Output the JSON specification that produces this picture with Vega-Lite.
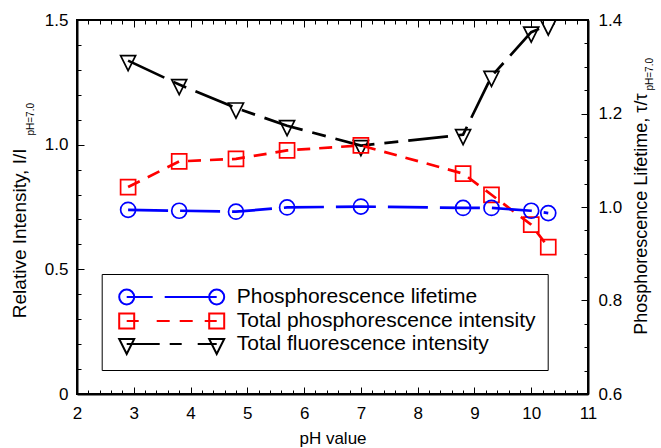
{
  "$schema": "https://vega.github.io/schema/vega-lite/v6.json",
  "width": 511,
  "height": 374,
  "autosize": {"type": "none"},
  "padding": {"left": 77, "top": 20, "right": 73, "bottom": 54},
  "background": "white",
  "config": {
    "font": "Liberation Sans",
    "view": {"stroke": "black", "strokeWidth": 2},
    "axis": {
      "grid": false,
      "domainColor": "black",
      "domainWidth": 2,
      "tickColor": "black",
      "tickWidth": 1,
      "labelColor": "black",
      "labelFont": "Liberation Sans",
      "labelFontSize": 17,
      "titleFont": "Liberation Sans",
      "titleFontSize": 18,
      "titleFontWeight": "normal",
      "titleColor": "black"
    }
  },
  "datasets": {
    "pts": [
      {"series": "Total fluorescence intensity", "ph": 2.9, "value": 1.337},
      {"series": "Total fluorescence intensity", "ph": 3.8, "value": 1.241},
      {"series": "Total fluorescence intensity", "ph": 4.8, "value": 1.147},
      {"series": "Total fluorescence intensity", "ph": 5.7, "value": 1.076},
      {"series": "Total fluorescence intensity", "ph": 7.0, "value": 0.996},
      {"series": "Total fluorescence intensity", "ph": 8.8, "value": 1.040},
      {"series": "Total fluorescence intensity", "ph": 9.3, "value": 1.274},
      {"series": "Total fluorescence intensity", "ph": 10.0, "value": 1.451},
      {"series": "Total fluorescence intensity", "ph": 10.3, "value": 1.48},
      {"series": "Total phosphorescence intensity", "ph": 2.9, "value": 0.830},
      {"series": "Total phosphorescence intensity", "ph": 3.8, "value": 0.933},
      {"series": "Total phosphorescence intensity", "ph": 4.8, "value": 0.943},
      {"series": "Total phosphorescence intensity", "ph": 5.7, "value": 0.977},
      {"series": "Total phosphorescence intensity", "ph": 7.0, "value": 0.997},
      {"series": "Total phosphorescence intensity", "ph": 8.8, "value": 0.884},
      {"series": "Total phosphorescence intensity", "ph": 9.3, "value": 0.799},
      {"series": "Total phosphorescence intensity", "ph": 10.0, "value": 0.679},
      {"series": "Total phosphorescence intensity", "ph": 10.3, "value": 0.589},
      {"series": "Phosphorescence lifetime", "ph": 2.9, "value": 0.994},
      {"series": "Phosphorescence lifetime", "ph": 3.8, "value": 0.992},
      {"series": "Phosphorescence lifetime", "ph": 4.8, "value": 0.990},
      {"series": "Phosphorescence lifetime", "ph": 5.7, "value": 0.999},
      {"series": "Phosphorescence lifetime", "ph": 7.0, "value": 1.001},
      {"series": "Phosphorescence lifetime", "ph": 8.8, "value": 0.998},
      {"series": "Phosphorescence lifetime", "ph": 9.3, "value": 0.998},
      {"series": "Phosphorescence lifetime", "ph": 10.0, "value": 0.992},
      {"series": "Phosphorescence lifetime", "ph": 10.3, "value": 0.987}
    ]
  },
  "layer": [
    {
      "encoding": {
        "x": {
          "field": "ph", "type": "quantitative",
          "scale": {"domain": [2, 11], "nice": false, "zero": false},
          "axis": {
            "orient": "bottom",
            "values": [2,2.2,2.4,2.6,2.8,3,3.2,3.4,3.6,3.8,4,4.2,4.4,4.6,4.8,5,5.2,5.4,5.6,5.8,6,6.2,6.4,6.6,6.8,7,7.2,7.4,7.6,7.8,8,8.2,8.4,8.6,8.8,9,9.2,9.4,9.6,9.8,10,10.2,10.4,10.6,10.8,11],
            "labelExpr": "abs(datum.value - round(datum.value)) < 0.001 ? format(datum.value, 'd') : ''",
            "tickSize": {"condition": {"test": "abs(datum.value - round(datum.value)) < 0.001", "value": -7}, "value": -4},
            "labelPadding": 18,
            "labelFlush": false,
            "labelOverlap": false,
            "title": "pH value",
            "titleFontSize": 17,
            "titleBaseline": "alphabetic",
            "titleAlign": "center",
            "titleX": 255.5,
            "titleY": 49
          }
        },
        "y": {
          "field": "value", "type": "quantitative",
          "scale": {"domain": [0, 1.5], "nice": false, "zero": false},
          "axis": {
            "orient": "left",
            "values": [0,0.1,0.2,0.3,0.4,0.5,0.6,0.7,0.8,0.9,1,1.1,1.2,1.3,1.4,1.5],
            "labelExpr": "abs(datum.value*2 - round(datum.value*2)) < 0.001 ? (datum.value == 0 ? '0' : format(datum.value, '.1f')) : ''",
            "tickSize": {"condition": {"test": "abs(datum.value*2 - round(datum.value*2)) < 0.001", "value": -7}, "value": -4},
            "labelPadding": 16,
            "labelFlush": false,
            "labelOverlap": false,
            "title": "Relative Intensity, I/I",
            "titleFontSize": 19,
            "titleAngle": -90,
            "titleAlign": "right",
            "titleBaseline": "alphabetic",
            "titleX": -52,
            "titleY": 128
          }
        }
      },
      "layer": [
        {
          "data": {"name": "pts"},
          "transform": [{"filter": "datum.series == 'Total fluorescence intensity'"}],
          "mark": {"type": "line", "color": "#000000", "strokeWidth": 2.7, "strokeDash": [40, 10, 14, 10]},
          "encoding": {}
        },
        {
          "data": {"name": "pts"},
          "transform": [{"filter": "datum.series == 'Total fluorescence intensity'"}],
          "mark": {"type": "point", "shape": "M-1,-0.667L1,-0.667L0,1.333Z", "filled": false, "size": 225, "strokeWidth": 1.7, "color": "#000000", "opacity": 1}
        },
        {
          "data": {"name": "pts"},
          "transform": [{"filter": "datum.series == 'Total phosphorescence intensity'"}],
          "mark": {"type": "line", "color": "#ff0000", "strokeWidth": 2.7, "strokeDash": [13, 9]},
          "encoding": {}
        },
        {
          "data": {"name": "pts"},
          "transform": [{"filter": "datum.series == 'Total phosphorescence intensity'"}],
          "mark": {"type": "point", "shape": "square", "filled": false, "size": 225, "strokeWidth": 1.7, "color": "#ff0000", "opacity": 1}
        },
        {
          "data": {"name": "pts"},
          "transform": [{"filter": "false"}],
          "mark": {"type": "point", "filled": false, "strokeWidth": 2, "opacity": 1},
          "encoding": {
            "color": {
              "field": "series", "type": "nominal",
              "scale": {"domain": ["Phosphorescence lifetime", "Total phosphorescence intensity", "Total fluorescence intensity"], "range": ["#0000ff", "#ff0000", "#000000"]},
              "legend": {
                "title": null, "orient": "none", "legendX": 24.7, "legendY": 254,
                "strokeColor": "black", "fillColor": "white", "padding": 12,
                "symbolSize": 400, "symbolStrokeWidth": 2, "symbolOffset": 47, "labelOffset": 54, "labelLimit": 500,
                "labelFontSize": 21, "labelFont": "Liberation Sans", "labelColor": "black", "rowPadding": 0
              }
            },
            "shape": {
              "field": "series", "type": "nominal",
              "scale": {"domain": ["Phosphorescence lifetime", "Total phosphorescence intensity", "Total fluorescence intensity"], "range": [
                "M-5.25,0A0.75,0.75,0,1,0,-3.75,0A0.75,0.75,0,1,0,-5.25,0M-4.5,0L-1.9,0M-0.7,0L4.5,0M3.75,0A0.75,0.75,0,1,0,5.25,0A0.75,0.75,0,1,0,3.75,0",
                "M-5.25,-0.75L-3.75,-0.75L-3.75,0.75L-5.25,0.75ZM-4.5,0L-3.3,0M-1.5,0L-0.2,0M0.8,0L2.1,0M3.3,0L4.5,0M3.75,-0.75L5.25,-0.75L5.25,0.75L3.75,0.75Z",
                "M-5.25,-0.5L-3.75,-0.5L-4.5,1ZM-4.5,0L-1.2,0M-0.2,0L1,0M2.6,0L4.5,0M3.75,-0.5L5.25,-0.5L4.5,1Z"
              ]},
              "legend": {
                "title": null, "orient": "none", "legendX": 24.7, "legendY": 254,
                "strokeColor": "black", "fillColor": "white", "padding": 12,
                "symbolSize": 400, "symbolStrokeWidth": 2, "symbolOffset": 47, "labelOffset": 54, "labelLimit": 500,
                "labelFontSize": 21, "labelFont": "Liberation Sans", "labelColor": "black", "rowPadding": 0
              }
            }
          }
        }
      ]
    },
    {
      "data": {"name": "pts"},
      "transform": [{"filter": "datum.series == 'Phosphorescence lifetime'"}],
      "encoding": {
        "x": {"field": "ph", "type": "quantitative", "scale": {"domain": [2, 11], "nice": false, "zero": false}, "axis": null},
        "y": {
          "field": "value", "type": "quantitative",
          "scale": {"domain": [0.6, 1.4], "nice": false, "zero": false},
          "axis": {
            "orient": "right",
            "values": [0.6,0.65,0.7,0.75,0.8,0.85,0.9,0.95,1,1.05,1.1,1.15,1.2,1.25,1.3,1.35,1.4],
            "labelExpr": "abs(datum.value*5 - round(datum.value*5)) < 0.001 ? format(datum.value, '.1f') : ''",
            "tickSize": {"condition": {"test": "abs(datum.value*5 - round(datum.value*5)) < 0.001", "value": -7}, "value": -4},
            "labelPadding": 17,
            "labelFlush": false,
            "labelOverlap": false,
            "title": "Phosphorescence Lifetime, τ/τ",
            "titleFontSize": 18,
            "titleAngle": -90,
            "titleAlign": "right",
            "titleBaseline": "alphabetic",
            "titleX": 58,
            "titleY": 73
          }
        }
      },
      "layer": [
        {
          "mark": {"type": "line", "color": "#0000ff", "strokeWidth": 2.7, "strokeDash": [40, 12]},
          "encoding": {}
        },
        {
          "mark": {"type": "point", "shape": "circle", "filled": false, "size": 225, "strokeWidth": 1.7, "color": "#0000ff", "opacity": 1}
        }
      ]
    },
    {
      "data": {"name": "pts"},
      "transform": [{"filter": "false"}],
      "mark": {"type": "point", "opacity": 0},
      "encoding": {
        "x": {
          "field": "ph", "type": "quantitative",
          "scale": {"domain": [2, 11], "nice": false, "zero": false},
          "axis": {
            "orient": "top",
            "values": [2,2.2,2.4,2.6,2.8,3,3.2,3.4,3.6,3.8,4,4.2,4.4,4.6,4.8,5,5.2,5.4,5.6,5.8,6,6.2,6.4,6.6,6.8,7,7.2,7.4,7.6,7.8,8,8.2,8.4,8.6,8.8,9,9.2,9.4,9.6,9.8,10,10.2,10.4,10.6,10.8,11],
            "labels": false,
            "domain": false,
            "title": null,
            "tickSize": {"condition": {"test": "abs(datum.value - round(datum.value)) < 0.001", "value": -7}, "value": -4}
          }
        },
        "y": {
          "field": "value", "type": "quantitative",
          "scale": {"domain": [0, 1], "nice": false, "zero": false},
          "axis": {
            "orient": "left",
            "domain": false, "ticks": false, "labels": false,
            "title": "pH=7.0",
            "titleFontSize": 10,
            "titleAngle": -90,
            "titleAlign": "left",
            "titleBaseline": "alphabetic",
            "titleX": -44,
            "titleY": 115
          }
        }
      }
    },
    {
      "data": {"name": "pts"},
      "transform": [{"filter": "false"}],
      "mark": {"type": "point", "opacity": 0},
      "encoding": {
        "x": {"field": "ph", "type": "quantitative", "scale": {"domain": [2, 11], "nice": false, "zero": false}, "axis": null},
        "y": {
          "field": "value", "type": "quantitative",
          "scale": {"domain": [0, 1], "nice": false, "zero": false},
          "axis": {
            "orient": "right",
            "domain": false, "ticks": false, "labels": false,
            "title": "pH=7.0",
            "titleFontSize": 10,
            "titleAngle": -90,
            "titleAlign": "left",
            "titleBaseline": "alphabetic",
            "titleX": 64,
            "titleY": 70
          }
        }
      }
    }
  ],
  "resolve": {"scale": {"x": "independent", "y": "independent"}}
}
